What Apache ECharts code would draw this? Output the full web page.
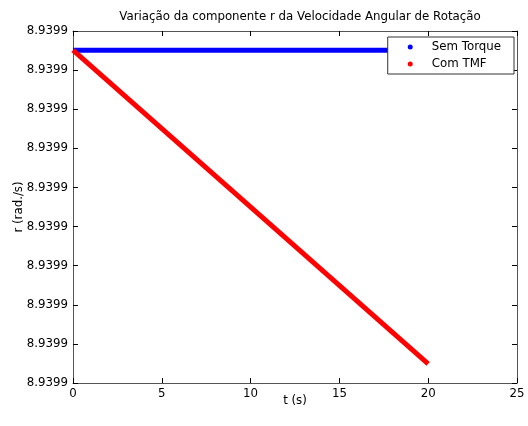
<!DOCTYPE html>
<html>
<head>
<meta charset="utf-8">
<script src="https://cdn.jsdelivr.net/npm/echarts@6/dist/echarts.min.js"></script>
<style>
  html, body { margin: 0; padding: 0; background: #fff; }
  #chart { width: 528px; height: 426px; }
</style>
</head>
<body>
<div id="chart"></div>
<script>
// Time samples (s)
const tempo = [0, 20];
// Angular velocity r, as deviation from 8.9399 rad/s in units of 1e-7 rad/s
const semTorque = [8.51, 8.51];
const comTMF = [8.51, 0.49];
// Tick labels on the r axis (all round to the same value)
const yTickLabels = ['8.9399', '8.9399', '8.9399', '8.9399', '8.9399',
                     '8.9399', '8.9399', '8.9399', '8.9399', '8.9399'];
const xTicks = [0, 5, 10, 15, 20, 25];

const FONT = 'DejaVu Sans, sans-serif';
const FS = 11.8;
const AXIS_COLOR = '#555';

const chart = echarts.init(document.getElementById('chart'));

// Box-style axis: line on every side, short ticks pointing into the plot
function boxAxis(extra) {
  return Object.assign({
    axisLine: { show: true, onZero: false, lineStyle: { color: AXIS_COLOR, width: 1 } },
    axisTick: { show: true, inside: true, length: 5, lineStyle: { color: '#000' } },
    splitLine: { show: false }
  }, extra);
}

chart.setOption({
  animation: false,
  backgroundColor: '#fff',
  title: {
    text: 'Variação da componente r da Velocidade Angular de Rotação',
    left: 295, top: 6, textAlign: 'center',
    textStyle: { fontFamily: FONT, fontSize: FS, fontWeight: 'normal', color: '#000' }
  },
  grid: { left: 73, right: 11, top: 31, bottom: 43, outerBoundsMode: 'none' },
  legend: {
    right: 14, top: 37,
    orient: 'vertical',
    backgroundColor: '#fff',
    borderColor: '#333', borderWidth: 1,
    padding: [4, 13, 4, 20],
    itemGap: 5,
    itemWidth: 5, itemHeight: 5,
    icon: 'circle',
    textStyle: { fontFamily: FONT, fontSize: FS, color: '#000', padding: [0, 0, 0, 14] },
    data: ['Sem Torque', 'Com TMF']
  },
  xAxis: [
    boxAxis({
      type: 'value', min: 0, max: 25, interval: 5, position: 'bottom',
      name: 't (s)', nameLocation: 'middle', nameGap: 12, nameMoveOverlap: false,
      nameTextStyle: { fontFamily: FONT, fontSize: FS, color: '#000' },
      axisLabel: { fontFamily: FONT, fontSize: FS, color: '#000', margin: 5,
        formatter: v => xTicks.includes(v) ? String(v) : '' }
    }),
    boxAxis({
      type: 'value', min: 0, max: 25, interval: 5, position: 'top',
      axisLabel: { show: false }
    })
  ],
  yAxis: [
    boxAxis({
      type: 'value', min: 0, max: 9, interval: 1, position: 'left',
      name: 'r (rad./s)', nameLocation: 'middle', nameGap: 48, nameRotate: 90,
      nameMoveOverlap: false,
      nameTextStyle: { fontFamily: FONT, fontSize: FS, color: '#000' },
      axisLabel: { fontFamily: FONT, fontSize: FS, color: '#000', margin: 5,
        formatter: (v) => yTickLabels[Math.round(v)] }
    }),
    boxAxis({
      type: 'value', min: 0, max: 9, interval: 1, position: 'right',
      axisLabel: { show: false }
    })
  ],
  series: [
    {
      name: 'Sem Torque', type: 'line', z: 2,
      data: tempo.map((t, i) => [t, semTorque[i]]),
      showSymbol: false, symbol: 'circle',
      itemStyle: { color: '#0000ff' },
      lineStyle: { color: '#0000ff', width: 5 }
    },
    {
      name: 'Com TMF', type: 'line', z: 3,
      data: tempo.map((t, i) => [t, comTMF[i]]),
      showSymbol: false, symbol: 'circle',
      itemStyle: { color: '#ff0000' },
      lineStyle: { color: '#ff0000', width: 5 }
    }
  ]
});
</script>
</body>
</html>
